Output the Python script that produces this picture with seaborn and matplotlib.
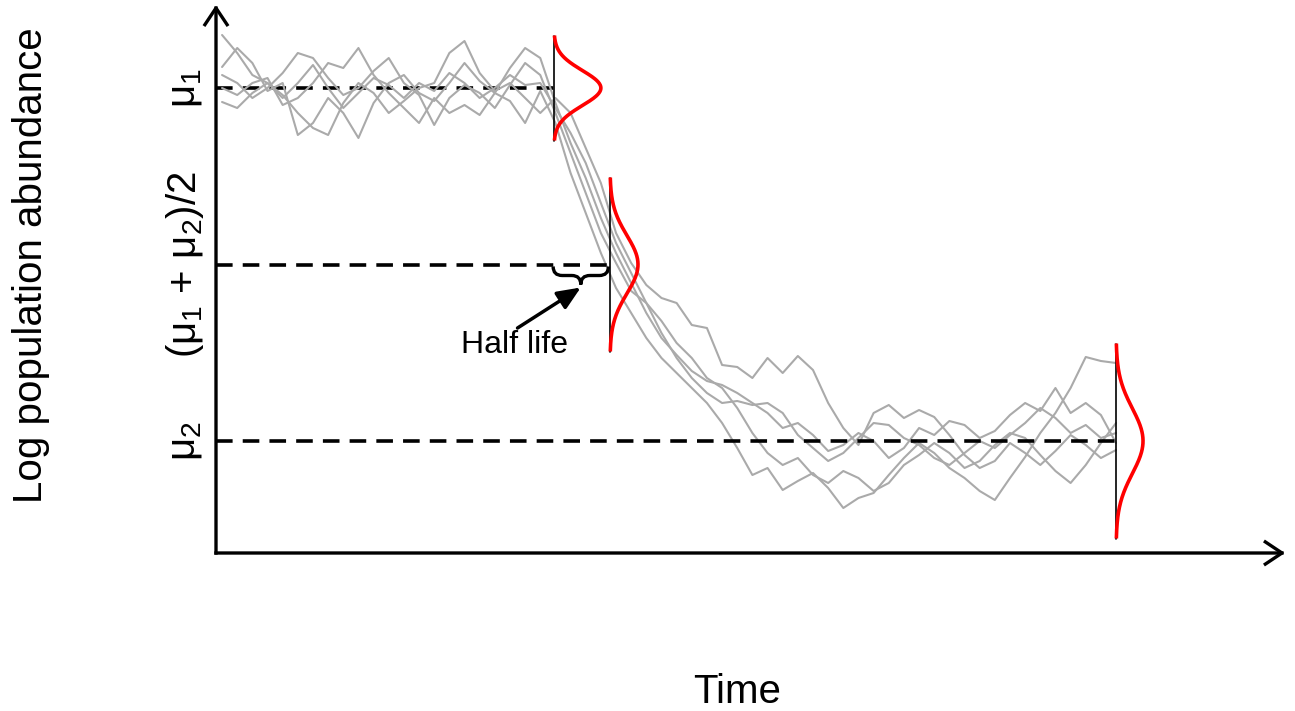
import numpy as np
import pandas as pd
import matplotlib
matplotlib.use("Agg")
import matplotlib.pyplot as plt
from matplotlib.path import Path
from matplotlib.patches import PathPatch
import seaborn as sns

# time steps and five simulated log-abundance trajectories
time = np.arange(60)
run_a = [518, 500, 478, 470, 455, 470, 488, 465, 445, 460, 475, 468, 455, 470, 462, 480, 470, 455, 465, 478, 468, 470,
         445, 420, 390, 350, 310, 280, 250, 220, 195, 175, 160, 150, 152, 148, 150, 140, 118, 105, 92, 100, 115, 130,
         128, 115, 108, 95, 88, 100, 112, 105, 118, 130, 145, 135, 120, 128, 115, 120]
run_b = [486, 505, 490, 462, 470, 418, 430, 455, 440, 415, 450, 470, 478, 460, 452, 470, 490, 472, 460, 452, 430, 462,
         430, 380, 340, 300, 265, 240, 215, 195, 180, 165, 150, 130, 105, 78, 85, 63, 72, 80, 65, 45, 55, 60,
         78, 95, 110, 100, 85, 75, 62, 53, 75, 96, 120, 140, 165, 196, 192, 190]
run_c = [451, 445, 460, 470, 458, 440, 425, 418, 450, 470, 460, 440, 452, 465, 470, 500, 512, 480, 462, 470, 455, 440,
         455, 440, 405, 370, 320, 290, 268, 255, 250, 228, 225, 188, 186, 175, 195, 180, 197, 183, 150, 125, 108, 140,
         148, 135, 143, 136, 118, 98, 85, 92, 110, 100, 88, 102, 118, 108, 95, 103]
run_d = [478, 470, 455, 465, 480, 500, 495, 475, 458, 465, 482, 495, 470, 458, 428, 455, 468, 460, 445, 468, 490, 478,
         440, 400, 360, 320, 290, 262, 250, 232, 210, 195, 175, 165, 145, 120, 100, 88, 95, 78, 70, 82, 75, 62,
         70, 88, 98, 110, 100, 85, 92, 108, 120, 115, 98, 82, 70, 88, 110, 130]
run_e = [465, 458, 470, 475, 448, 455, 470, 490, 485, 505, 478, 460, 445, 430, 455, 440, 448, 438, 460, 485, 505, 495,
         450, 410, 375, 335, 300, 270, 240, 215, 198, 182, 172, 168, 160, 150, 140, 125, 130, 118, 102, 108, 120, 112,
         95, 105, 125, 118, 132, 128, 115, 122, 138, 150, 142, 165, 140, 150, 138, 110]
runs = [run_a, run_b, run_c, run_d, run_e]

# equilibrium levels and the times where the distributions are shown
mu1, mu2 = 465, 112
half_level = (mu1 + mu2) / 2
dist_times = [21.9, 25.6, 59]
dist_means = [mu1, half_level, mu2]
dist_sds = [17.5, 29, 32.5]
dist_peaks = [3.1, 1.85, 1.78]

df = pd.DataFrame({
    "time": np.tile(time, len(runs)),
    "abundance": np.concatenate(runs),
    "run": np.repeat(np.arange(len(runs)), len(time)),
})

sns.set_theme(style="white")
plt.rcParams["font.family"] = ["Liberation Sans", "DejaVu Sans"]
plt.rcParams["mathtext.fontset"] = "custom"
plt.rcParams["mathtext.rm"] = "Liberation Sans"
plt.rcParams["mathtext.it"] = "Liberation Sans"
plt.rcParams["text.color"] = "black"

fig = plt.figure(figsize=(12.95, 7.11), dpi=100)
ax = fig.add_axes([216 / 1295, 158 / 711, 1069 / 1295, 548 / 711])

sns.lineplot(data=df, x="time", y="abundance", units="run", estimator=None,
             color="#aaaaaa", linewidth=1.5, legend=False, ax=ax, zorder=2)

# dashed reference levels
dash = dict(color="black", lw=2.6, dashes=(4.6, 2.8))
ax.plot([-0.4, dist_times[0]], [mu1, mu1], zorder=1, **dash)
ax.plot([-0.4, dist_times[1]], [half_level, half_level], zorder=3, **dash)
ax.plot([-0.4, dist_times[2]], [mu2, mu2], zorder=3, **dash)

# distributions: vertical baseline + red density
for t, m, s, p in zip(dist_times, dist_means, dist_sds, dist_peaks):
    yy = np.linspace(m - 3 * s, m + 3 * s, 200)
    xx = t + p * np.exp(-0.5 * ((yy - m) / s) ** 2)
    ax.plot([t, t], [yy[0], yy[-1]], color="black", lw=1.2, zorder=4)
    ax.plot(xx, yy, color="red", lw=2.6, zorder=5, solid_capstyle="butt")

# curly brace marking the half life
x0, x1, yb, d, q = dist_times[0] - 0.05, dist_times[1] - 0.1, half_level - 2, 18, 0.6
xm = (x0 + x1) / 2
verts = [(x0, yb), (x0, yb - d / 2), (x0 + q, yb - d / 2), (xm - q, yb - d / 2),
         (xm, yb - d / 2), (xm, yb - d),
         (xm, yb - d / 2), (xm + q, yb - d / 2), (x1 - q, yb - d / 2),
         (x1, yb - d / 2), (x1, yb)]
codes = [Path.MOVETO, Path.CURVE3, Path.CURVE3, Path.LINETO, Path.CURVE3, Path.CURVE3,
         Path.CURVE3, Path.CURVE3, Path.LINETO, Path.CURVE3, Path.CURVE3]
ax.add_patch(PathPatch(Path(verts, codes), fill=False, lw=2.4, color="black", zorder=6))

ax.annotate("", xy=(xm, yb - d - 3), xytext=(19.5, 225),
            arrowprops=dict(arrowstyle="-|>,head_length=0.7,head_width=0.3", lw=2.5,
                            color="black", shrinkA=0, shrinkB=0, mutation_scale=20))
ax.text(19.3, 200, "Half life", ha="center", va="baseline", fontsize=23)

# level labels on the y axis
lab = dict(rotation=90, ha="center", va="center", fontsize=29, clip_on=False)
ax.text(-2.45, mu1, r"μ$_1$", **lab)
ax.text(-2.45, half_level, r"(μ$_1$ + μ$_2$)/2", **lab)
ax.text(-2.45, mu2, r"μ$_2$", **lab)

ax.set_xlim(-0.4, 70.15)
ax.set_ylim(0, 548)
ax.set_xticks([])
ax.set_yticks([])
ax.set_xlabel("")
ax.set_ylabel("")
for side in ax.spines:
    ax.spines[side].set_visible(False)

head = dict(arrowstyle="->,head_length=0.6,head_width=0.4", lw=2.4, color="black",
            shrinkA=0, shrinkB=0, mutation_scale=20, capstyle="projecting")
ax.annotate("", xy=(0, 1), xytext=(0, 0), xycoords="axes fraction", arrowprops=head)
ax.annotate("", xy=(1, 0), xytext=(0, 0), xycoords="axes fraction", arrowprops=head)

fig.text(737 / 1295, 8 / 711, "Time", ha="center", va="baseline", fontsize=29)
fig.text(31 / 1295, 1 - 265 / 711, "Log population abundance", rotation=90,
         ha="center", va="center", fontsize=29)

fig.savefig("out.png", dpi=100)
